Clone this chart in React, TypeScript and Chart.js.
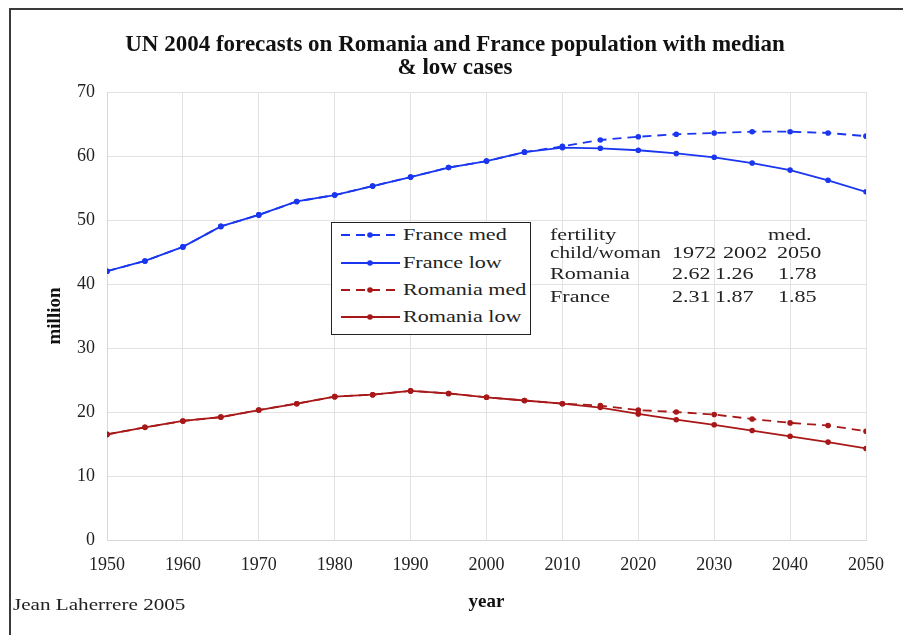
import React, { useEffect, useRef } from 'react';
import { Chart, registerables } from 'chart.js';

Chart.register(...registerables);

const years = [1950, 1955, 1960, 1965, 1970, 1975, 1980, 1985, 1990, 1995, 2000, 2005, 2010, 2015, 2020, 2025, 2030, 2035, 2040, 2045, 2050];
const franceMed = [42.0, 43.6, 45.8, 49.0, 50.8, 52.9, 53.9, 55.3, 56.7, 58.2, 59.2, 60.6, 61.5, 62.5, 63.0, 63.4, 63.6, 63.8, 63.8, 63.6, 63.1];
const franceLow = [42.0, 43.6, 45.8, 49.0, 50.8, 52.9, 53.9, 55.3, 56.7, 58.2, 59.2, 60.6, 61.3, 61.2, 60.9, 60.4, 59.8, 58.9, 57.8, 56.2, 54.4];
const romaniaMed = [16.5, 17.6, 18.6, 19.2, 20.3, 21.3, 22.4, 22.7, 23.3, 22.9, 22.3, 21.8, 21.3, 21.0, 20.3, 20.0, 19.6, 18.9, 18.3, 17.9, 17.0];
const romaniaLow = [16.5, 17.6, 18.6, 19.2, 20.3, 21.3, 22.4, 22.7, 23.3, 22.9, 22.3, 21.8, 21.3, 20.7, 19.7, 18.8, 18.0, 17.1, 16.2, 15.3, 14.3];

const seriesNames = ['France med', 'France low', 'Romania med', 'Romania low'];
const seriesData = [franceMed, franceLow, romaniaMed, romaniaLow];
const seriesColors = ['#1a36f0', '#1a36f0', '#a81818', '#a81818'];
const seriesDashed = [true, false, true, false];

const fertilityHeader = ['fertility', 'med.'];
const fertilityYears = ['child/woman', '1972', '2002', '2050'];
const fertilityRows = [
  ['Romania', '2.62', '1.26', '1.78'],
  ['France', '2.31', '1.87', '1.85'],
];

const titleLines = ['UN 2004 forecasts on Romania and France population with median', '& low cases'];
const credit = 'Jean Laherrere 2005';

const SERIF = '"Liberation Serif", "Times New Roman", serif';

export default function App() {
  const ref = useRef<HTMLCanvasElement | null>(null);

  useEffect(() => {
    if (!ref.current) return;
    const chart = new Chart(ref.current, {
      type: 'line',
      data: {
        datasets: seriesNames.map((name, i) => ({
          label: name,
          data: years.map((x, j) => ({ x, y: seriesData[i][j] })),
          borderColor: seriesColors[i],
          backgroundColor: seriesColors[i],
          borderWidth: 1.8,
          borderDash: seriesDashed[i] ? [9, 6] : [],
          pointRadius: 2.8,
          pointStyle: 'circle',
          pointBorderWidth: 0,
          tension: 0,
          fill: false,
        })),
      },
      options: {
        responsive: false,
        animation: false,
        layout: { padding: { left: 44, right: 37, top: 0, bottom: 0 } },
        plugins: {
          legend: { display: false },
          tooltip: { enabled: false },
          title: {
            display: true,
            text: titleLines,
            color: '#111',
            font: { family: SERIF, size: 23, weight: 'bold', lineHeight: 1.0 },
            padding: { top: 34, bottom: 12 },
          },
        },
        scales: {
          x: {
            type: 'linear',
            min: 1950,
            max: 2050,
            afterFit: (s: any) => { s.height = 95; },
            ticks: {
              stepSize: 10,
              callback: (v: any) => String(v),
              color: '#222',
              font: { family: SERIF, size: 18 },
              padding: 14,
              maxRotation: 0,
            },
            grid: { color: '#e2e2e2', drawTicks: false, lineWidth: 1 },
            border: { color: '#d8d8d8' },
            title: {
              display: true,
              text: 'year',
              color: '#111',
              font: { family: SERIF, size: 19, weight: 'bold', lineHeight: 1.2 },
              padding: { top: 0, bottom: 22 },
            },
          },
          y: {
            min: 0,
            max: 70,
            afterFit: (s: any) => { s.width = 63; },
            ticks: {
              stepSize: 10,
              color: '#222',
              font: { family: SERIF, size: 18 },
              padding: 12,
            },
            grid: { color: '#e2e2e2', drawTicks: false, lineWidth: 1 },
            border: { color: '#d8d8d8' },
            title: {
              display: true,
              text: 'million',
              color: '#111',
              font: { family: SERIF, size: 19, weight: 'bold', lineHeight: 1.2 },
              padding: 0,
            },
          },
        },
      },
    });
    return () => chart.destroy();
  }, []);

  const textStyle: React.CSSProperties = {
    position: 'absolute',
    fontFamily: SERIF,
    fontSize: 17,
    color: '#222',
    whiteSpace: 'nowrap',
    lineHeight: '20px',
    transform: 'scaleX(1.3)',
    transformOrigin: 'left center',
  };

  const legendRowY = [235, 263, 290, 317];
  const fertColX = [550, 672, 715, 778];
  const headerColX = [550, 672, 723, 777];

  return (
    <div style={{ position: 'absolute', left: 0, top: 0, width: 903, height: 635, background: '#fff', overflow: 'hidden' }}>
      <canvas ref={ref} width={903} height={635} style={{ position: 'absolute', left: 0, top: 0 }} />
      <div style={{ position: 'absolute', left: 9, top: 8, width: 894, height: 2, background: '#3a3a3a' }} />
      <div style={{ position: 'absolute', left: 9, top: 8, width: 2, height: 627, background: '#3a3a3a' }} />

      <div style={{ position: 'absolute', left: 331, top: 222, width: 198, height: 111, border: '1.5px solid #222', background: '#fff' }} />
      <svg width={903} height={635} style={{ position: 'absolute', left: 0, top: 0, pointerEvents: 'none' }}>
        {seriesNames.map((n, i) => (
          <g key={n}>
            <line x1={341} x2={400} y1={legendRowY[i]} y2={legendRowY[i]} stroke={seriesColors[i]} strokeWidth={1.8} strokeDasharray={seriesDashed[i] ? '9 6' : undefined} />
            <circle cx={370} cy={legendRowY[i]} r={2.8} fill={seriesColors[i]} />
          </g>
        ))}
      </svg>
      {seriesNames.map((n, i) => (
        <div key={n} style={{ ...textStyle, left: 403, top: legendRowY[i] - 10 }}>{n}</div>
      ))}

      <div style={{ ...textStyle, left: headerColX[0], top: 225 }}>{fertilityHeader[0]}</div>
      <div style={{ ...textStyle, left: 768, top: 225 }}>{fertilityHeader[1]}</div>
      {fertilityYears.map((t, k) => (
        <div key={t} style={{ ...textStyle, left: headerColX[k], top: 243, transform: k === 0 ? 'scaleX(1.25)' : 'scaleX(1.3)' }}>{t}</div>
      ))}
      {fertilityRows.map((row, r) => (
        row.map((t, k) => (
          <div key={r + '-' + k} style={{ ...textStyle, left: fertColX[k], top: 264 + r * 23 }}>{t}</div>
        ))
      ))}

      <div style={{ ...textStyle, left: 13, top: 595, fontSize: 16, transform: 'scaleX(1.32)' }}>{credit}</div>
    </div>
  );
}
